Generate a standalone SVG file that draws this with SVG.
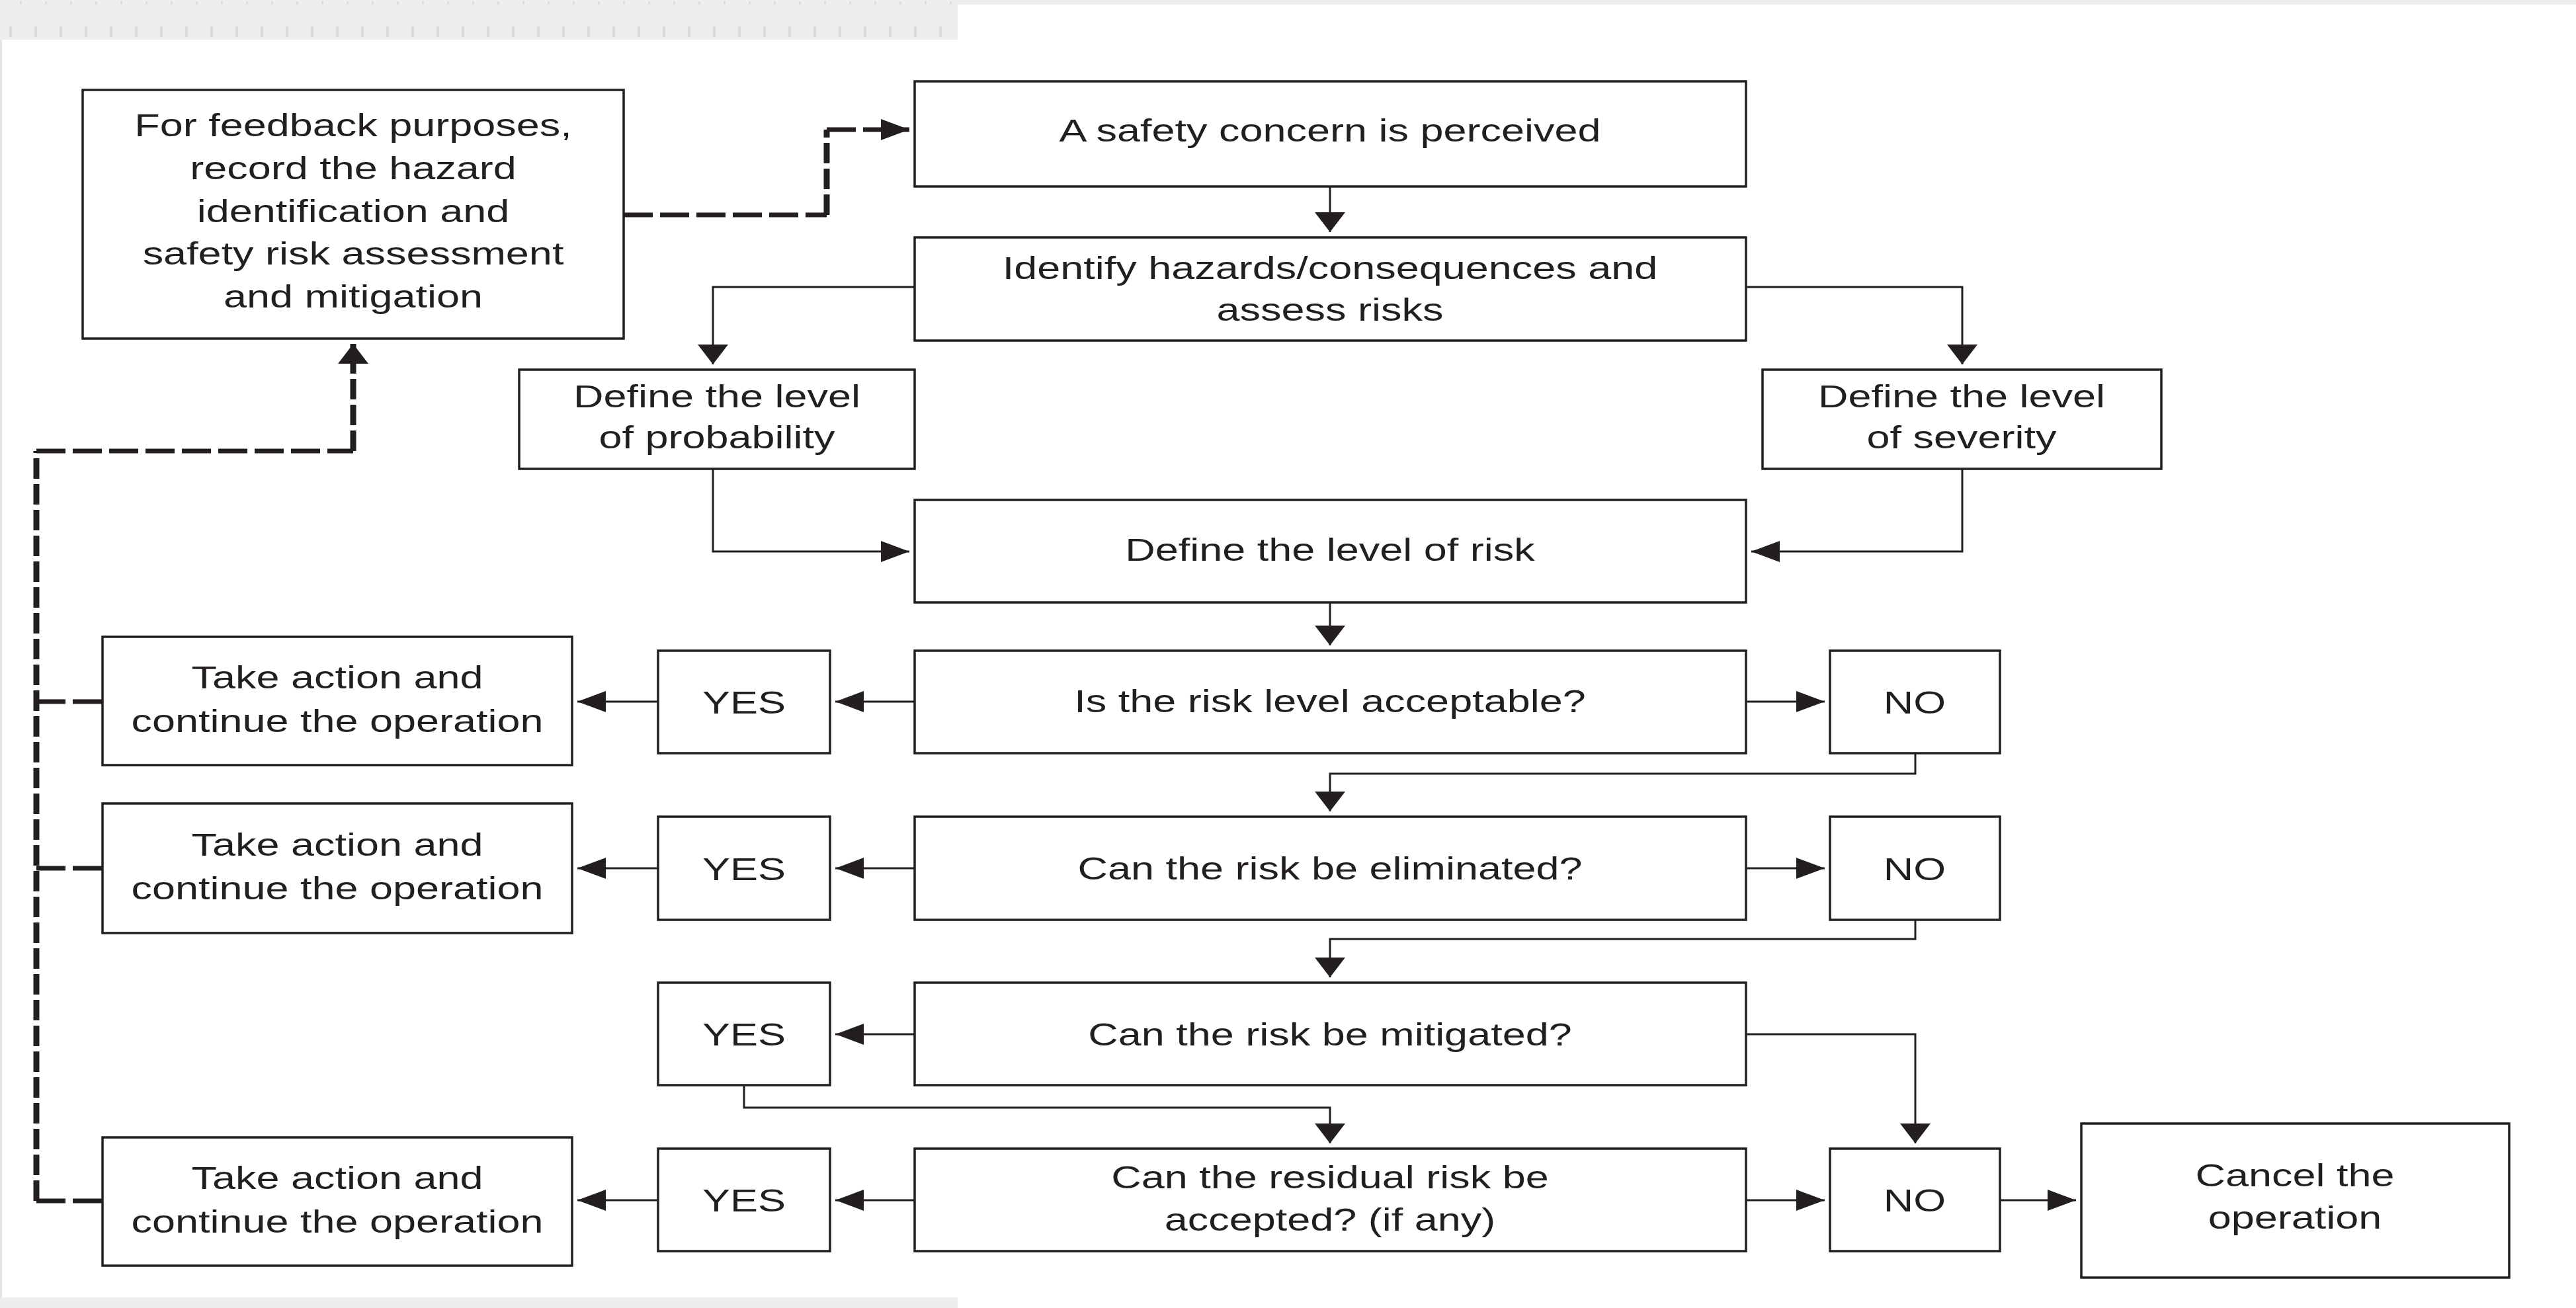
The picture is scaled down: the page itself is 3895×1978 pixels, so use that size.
<svg xmlns="http://www.w3.org/2000/svg" width="3895" height="1978" viewBox="0 0 3895 1978">
<style>
.box{fill:#ffffff;stroke:#231f20;stroke-width:3.5}
.t{font-family:"Liberation Sans",Arial,sans-serif;font-size:49px;fill:#231f20;text-anchor:middle}
.c{fill:none;stroke:#231f20;stroke-width:3}
.dh{fill:none;stroke:#231f20;stroke-width:7;stroke-dasharray:44 11}
.dv{fill:none;stroke:#231f20;stroke-width:9;stroke-dasharray:31 8}
.band{fill:#efeded}
</style>
<defs>
<marker id="ah" markerWidth="43" markerHeight="32" refX="43" refY="16" orient="auto" markerUnits="userSpaceOnUse"><path d="M0,0 L43,16 L0,32 Z" fill="#231f20"/></marker>
<marker id="av" markerWidth="30" markerHeight="46" refX="30" refY="23" orient="auto" markerUnits="userSpaceOnUse"><path d="M0,0 L30,23 L0,46 Z" fill="#231f20"/></marker>
<pattern id="ticks" x="0" y="0" width="38" height="60" patternUnits="userSpaceOnUse"><rect x="14" y="40" width="4" height="16" fill="#dcdada"/><rect x="30" y="2" width="3" height="5" fill="#dedcdc"/></pattern>
</defs>
<rect x="0" y="0" width="3895" height="1978" fill="#ffffff"/>
<g id="background">
<rect class="band" x="0" y="0" width="3895" height="7"/>
<rect class="band" x="0" y="0" width="1448" height="60"/>
<rect x="0" y="0" width="1448" height="60" fill="url(#ticks)"/>
<rect class="band" x="0" y="1962" width="1448" height="16"/>
<rect x="0" y="60" width="3" height="1902" fill="#e6e4e4"/>
</g>
<g id="connectors">
<path class="c" d="M2011,282 V351" marker-end="url(#av)"/>
<path class="c" d="M1383,434 H1078 V551" marker-end="url(#av)"/>
<path class="c" d="M2640,434 H2967 V551" marker-end="url(#av)"/>
<path class="c" d="M1078,709 V834 H1375" marker-end="url(#ah)"/>
<path class="c" d="M2967,709 V834 H2648" marker-end="url(#ah)"/>
<path class="c" d="M2011,911 V976" marker-end="url(#av)"/>
<path class="c" d="M1383,1061 H1263" marker-end="url(#ah)"/>
<path class="c" d="M995,1061 H873" marker-end="url(#ah)"/>
<path class="c" d="M2640,1061 H2759" marker-end="url(#ah)"/>
<path class="c" d="M2896,1139 V1170 H2011 V1227" marker-end="url(#av)"/>
<path class="c" d="M1383,1313 H1263" marker-end="url(#ah)"/>
<path class="c" d="M995,1313 H873" marker-end="url(#ah)"/>
<path class="c" d="M2640,1313 H2759" marker-end="url(#ah)"/>
<path class="c" d="M2896,1391 V1420 H2011 V1478" marker-end="url(#av)"/>
<path class="c" d="M1383,1564 H1263" marker-end="url(#ah)"/>
<path class="c" d="M2640,1564 H2896 V1729" marker-end="url(#av)"/>
<path class="c" d="M1125,1641 V1675 H2011 V1729" marker-end="url(#av)"/>
<path class="c" d="M1383,1815 H1263" marker-end="url(#ah)"/>
<path class="c" d="M995,1815 H873" marker-end="url(#ah)"/>
<path class="c" d="M2640,1815 H2759" marker-end="url(#ah)"/>
<path class="c" d="M3024,1815 H3139" marker-end="url(#ah)"/>
<path class="dh" d="M943,325 H1250"/>
<path class="dv" d="M1250,325 V196"/>
<path class="dh" d="M1250,196 H1375" marker-end="url(#ah)"/>
<path class="dv" d="M55,1816 V682"/>
<path class="dh" d="M55,682 H534"/>
<path class="dv" d="M534,682 V520" marker-end="url(#av)"/>
<path class="dh" d="M55,1061 H155"/>
<path class="dh" d="M55,1313 H155"/>
<path class="dh" d="M55,1816 H155"/>
</g>
<g id="n-feedback">
<rect class="box" x="125" y="136" width="818" height="376"/>
<g transform="translate(534 0) scale(1.285 1)">
<text class="t" x="0" y="206">For feedback purposes,</text>
<text class="t" x="0" y="271">record the hazard</text>
<text class="t" x="0" y="336">identification and</text>
<text class="t" x="0" y="400">safety risk assessment</text>
<text class="t" x="0" y="465">and mitigation</text>
</g>
</g>
<g id="n-concern">
<rect class="box" x="1383" y="123" width="1257" height="159"/>
<g transform="translate(2011 0) scale(1.285 1)"><text class="t" x="0" y="214">A safety concern is perceived</text></g>
</g>
<g id="n-identify">
<rect class="box" x="1383" y="359" width="1257" height="156"/>
<g transform="translate(2011 0) scale(1.285 1)">
<text class="t" x="0" y="422">Identify hazards/consequences and</text>
<text class="t" x="0" y="485">assess risks</text>
</g>
</g>
<g id="n-probability">
<rect class="box" x="785" y="559" width="598" height="150"/>
<g transform="translate(1084 0) scale(1.285 1)">
<text class="t" x="0" y="616">Define the level</text>
<text class="t" x="0" y="678">of probability</text>
</g>
</g>
<g id="n-severity">
<rect class="box" x="2665" y="559" width="603" height="150"/>
<g transform="translate(2966 0) scale(1.285 1)">
<text class="t" x="0" y="616">Define the level</text>
<text class="t" x="0" y="678">of severity</text>
</g>
</g>
<g id="n-risk">
<rect class="box" x="1383" y="756" width="1257" height="155"/>
<g transform="translate(2011 0) scale(1.285 1)"><text class="t" x="0" y="848">Define the level of risk</text></g>
</g>
<g id="n-acceptable">
<rect class="box" x="1383" y="984" width="1257" height="155"/>
<g transform="translate(2011 0) scale(1.285 1)"><text class="t" x="0" y="1077">Is the risk level acceptable?</text></g>
</g>
<g id="n-yes1">
<rect class="box" x="995" y="984" width="260" height="155"/>
<g transform="translate(1125 0) scale(1.285 1)"><text class="t" x="0" y="1079">YES</text></g>
</g>
<g id="n-no1">
<rect class="box" x="2767" y="984" width="257" height="155"/>
<g transform="translate(2895 0) scale(1.285 1)"><text class="t" x="0" y="1079">NO</text></g>
</g>
<g id="n-action1">
<rect class="box" x="155" y="963" width="710" height="194"/>
<g transform="translate(510 0) scale(1.285 1)">
<text class="t" x="0" y="1041">Take action and</text>
<text class="t" x="0" y="1107">continue the operation</text>
</g>
</g>
<g id="n-eliminated">
<rect class="box" x="1383" y="1235" width="1257" height="156"/>
<g transform="translate(2011 0) scale(1.285 1)"><text class="t" x="0" y="1330">Can the risk be eliminated?</text></g>
</g>
<g id="n-yes2">
<rect class="box" x="995" y="1235" width="260" height="156"/>
<g transform="translate(1125 0) scale(1.285 1)"><text class="t" x="0" y="1331">YES</text></g>
</g>
<g id="n-no2">
<rect class="box" x="2767" y="1235" width="257" height="156"/>
<g transform="translate(2895 0) scale(1.285 1)"><text class="t" x="0" y="1331">NO</text></g>
</g>
<g id="n-action2">
<rect class="box" x="155" y="1215" width="710" height="196"/>
<g transform="translate(510 0) scale(1.285 1)">
<text class="t" x="0" y="1294">Take action and</text>
<text class="t" x="0" y="1360">continue the operation</text>
</g>
</g>
<g id="n-mitigated">
<rect class="box" x="1383" y="1486" width="1257" height="155"/>
<g transform="translate(2011 0) scale(1.285 1)"><text class="t" x="0" y="1581">Can the risk be mitigated?</text></g>
</g>
<g id="n-yes3">
<rect class="box" x="995" y="1486" width="260" height="155"/>
<g transform="translate(1125 0) scale(1.285 1)"><text class="t" x="0" y="1581">YES</text></g>
</g>
<g id="n-residual">
<rect class="box" x="1383" y="1737" width="1257" height="155"/>
<g transform="translate(2011 0) scale(1.285 1)">
<text class="t" x="0" y="1797">Can the residual risk be</text>
<text class="t" x="0" y="1861">accepted? (if any)</text>
</g>
</g>
<g id="n-yes4">
<rect class="box" x="995" y="1737" width="260" height="155"/>
<g transform="translate(1125 0) scale(1.285 1)"><text class="t" x="0" y="1832">YES</text></g>
</g>
<g id="n-no4">
<rect class="box" x="2767" y="1737" width="257" height="155"/>
<g transform="translate(2895 0) scale(1.285 1)"><text class="t" x="0" y="1832">NO</text></g>
</g>
<g id="n-action4">
<rect class="box" x="155" y="1720" width="710" height="194"/>
<g transform="translate(510 0) scale(1.285 1)">
<text class="t" x="0" y="1798">Take action and</text>
<text class="t" x="0" y="1864">continue the operation</text>
</g>
</g>
<g id="n-cancel">
<rect class="box" x="3147" y="1699" width="647" height="233"/>
<g transform="translate(3470 0) scale(1.285 1)">
<text class="t" x="0" y="1794">Cancel the</text>
<text class="t" x="0" y="1858">operation</text>
</g>
</g>
</svg>
